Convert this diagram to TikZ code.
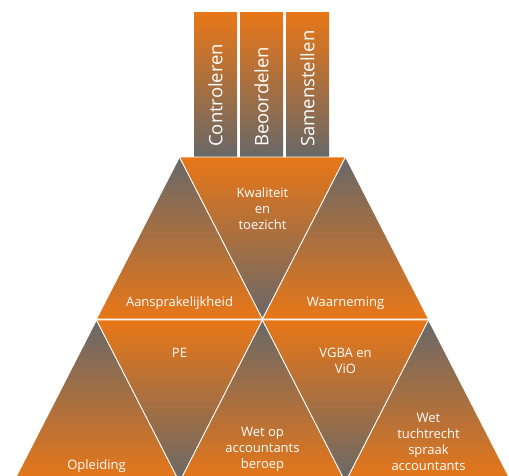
\documentclass[tikz,border=0pt]{standalone}
\usepackage{fontspec}
\setmainfont{Open Sans}
\definecolor{pyrorange}{RGB}{232,119,24}
\definecolor{pyrgray}{RGB}{104,104,104}
\definecolor{pyrmid}{RGB}{160,124,98}
\tikzset{
	upshade/.style={draw=white, line width=0.8pt, top color=pyrgray, middle color=pyrmid, bottom color=pyrorange},
	downshade/.style={draw=white, line width=0.8pt, top color=pyrorange, middle color=pyrmid, bottom color=pyrgray},
	colshade/.style={top color=pyrorange, middle color=pyrmid, bottom color=pyrgray},
	lbl/.style={text=white, inner sep=0pt, align=center, font=\fontsize{13}{16}\selectfont},
	collbl/.style={text=white, inner sep=0pt, rotate=90, anchor=west, font=\fontsize{18.5}{18.5}\selectfont}
}

\begin{document}
\begin{tikzpicture}[x=1pt, y=-1pt]
			%%%%% START %%%%%
			\useasboundingbox (0, 0) rectangle (509, 475);
			
			% columns
			\fill[colshade] (194, 12.5) rectangle (237, 157);
			\fill[colshade] (240, 12.5) rectangle (283, 157);
			\fill[colshade] (286, 12.5) rectangle (329, 157);
			\node[collbl] (controleren) at (215.5, 147) {Controleren};
			\node[collbl] (beoordelen) at (261.5, 147) {Beoordelen};
			\node[collbl] (samenstellen) at (307.5, 147) {Samenstellen};
			
			% upper row
			\draw[upshade] (179.5, 157) -- (262.5, 319) -- (96.5, 319) -- cycle;
			\draw[downshade] (179.5, 157) -- (345.5, 157) -- (262.5, 319) -- cycle;
			\draw[upshade] (345.5, 157) -- (428.5, 319) -- (262.5, 319) -- cycle;
			
			% lower row
			\draw[upshade] (96.5, 320) -- (179.5, 482) -- (13.5, 482) -- cycle;
			\draw[downshade] (96.5, 320) -- (262.5, 320) -- (179.5, 482) -- cycle;
			\draw[upshade] (262.5, 320) -- (345.5, 482) -- (179.5, 482) -- cycle;
			\draw[downshade] (262.5, 320) -- (428.5, 320) -- (345.5, 482) -- cycle;
			\draw[upshade] (428.5, 320) -- (511.5, 482) -- (345.5, 482) -- cycle;
			
			\node[lbl] (kwaliteit) at (262.5, 208.5) {Kwaliteit\\en\\toezicht};
			\node[lbl] (aansprakelijkheid) at (179.5, 303) {Aansprakelijkheid};
			\node[lbl] (waarneming) at (345.5, 303) {Waarneming};
			
			\node[lbl] (pe) at (179.5, 353) {PE};
			\node[lbl] (vgba) at (345.5, 361) {VGBA en\\ViO};
			\node[lbl] (opleiding) at (96.5, 466) {Opleiding};
			\node[lbl] (wetberoep) at (262.5, 449.5) {Wet op\\accountants\\beroep};
			\node[lbl] (wettucht) at (428.5, 441.5) {Wet\\tuchtrecht\\spraak\\accountants};
			
			%%%%% END %%%%%
\end{tikzpicture}
\end{document}
